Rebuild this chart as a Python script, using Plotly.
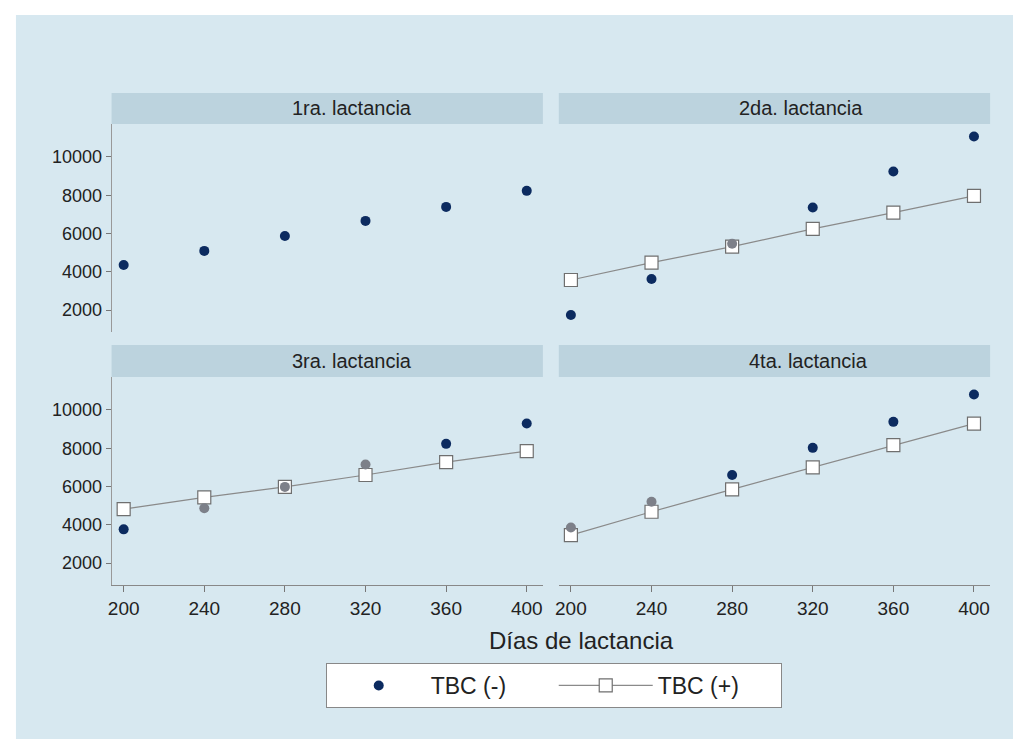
import plotly.graph_objects as go

W, H = 1017, 739

# ---- data ----
days = [200, 240, 280, 320, 360, 400]
panels = ["1ra. lactancia", "2da. lactancia", "3ra. lactancia", "4ta. lactancia"]
tbc_neg_1 = [4350, 5090, 5870, 6660, 7390, 8230]
tbc_pos_1 = None
tbc_neg_2 = [1740, 3620, 5460, 7360, 9240, 11070]
tbc_pos_2 = [3570, 4480, 5310, 6240, 7090, 7970]
tbc_neg_3 = [3760, 4860, 5980, 7150, 8230, 9290]
tbc_pos_3 = [4820, 5430, 5980, 6600, 7270, 7850]
tbc_neg_4 = [3860, 5200, 6600, 8020, 9380, 10810]
tbc_pos_4 = [3460, 4680, 5850, 7000, 8160, 9290]
y_ticks = [2000, 4000, 6000, 8000, 10000]
x_ticks = [200, 240, 280, 320, 360, 400]
series_names = ["TBC (-)", "TBC (+)"]

neg = [tbc_neg_1, tbc_neg_2, tbc_neg_3, tbc_neg_4]
pos = [tbc_pos_1, tbc_pos_2, tbc_pos_3, tbc_pos_4]

NAVY = "#0c2b60"
GRAY_DOT = "#7d8089"
LINE = "#8a8a8a"
BG = "#d7e8f0"
STRIP = "#bcd3de"
TXT = "#222222"
FONT = "Liberation Sans, Arial, sans-serif"

def px_x(p):
    return p / W

def px_y(p):
    return 1 - p / H

# panel pixel boxes: (left, right, top, bottom) of plot area; strip top
boxes = [
    (108, 541, 124, 332, 93),
    (557, 990, 124, 332, 93),
    (108, 541, 377, 585, 345),
    (557, 990, 377, 585, 345),
]
title_x = [349, 800, 349, 808]

fig = go.Figure()
layout = dict(
    width=W, height=H,
    margin=dict(l=0, r=0, t=0, b=0),
    paper_bgcolor="white",
    plot_bgcolor="white",
    font=dict(family=FONT, color=TXT),
    shapes=[], annotations=[],
)

layout["shapes"].append(dict(type="rect", xref="paper", yref="paper",
                             x0=px_x(12), x1=px_x(1013), y0=0, y1=px_y(15),
                             fillcolor=BG, line=dict(width=0), layer="below"))

for i, (l, r, t, b, st) in enumerate(boxes):
    k = "" if i == 0 else str(i + 1)
    xa, ya = "xaxis" + k, "yaxis" + k
    bottom_row = i >= 2
    left_col = i % 2 == 0
    layout[xa] = dict(
        domain=[px_x(l), px_x(r)], anchor="y" + k, range=[194, 408],
        tickvals=x_ticks, ticktext=[str(v) for v in x_ticks],
        showticklabels=bottom_row,
        ticks="outside" if bottom_row else "", ticklen=6, tickcolor="#777",
        showline=bottom_row, linecolor="#888", linewidth=1,
        showgrid=False, zeroline=False,
        tickfont=dict(size=19, color=TXT, family=FONT),
    )
    layout[ya] = dict(
        domain=[px_y(b), px_y(t)], anchor="x" + k, range=[850, 11725],
        tickvals=y_ticks, ticktext=[str(v) for v in y_ticks],
        showticklabels=left_col,
        ticks="outside" if left_col else "", ticklen=5, tickcolor="#777",
        showline=left_col, linecolor="#999", linewidth=1,
        showgrid=False, zeroline=False,
        tickfont=dict(size=18, color=TXT, family=FONT),
    )
    # strip
    layout["shapes"].append(dict(type="rect", xref="paper", yref="paper",
                                 x0=px_x(l), x1=px_x(r), y0=px_y(t), y1=px_y(st),
                                 fillcolor=STRIP, line=dict(width=0), layer="below"))
    layout["annotations"].append(dict(text=panels[i], xref="paper", yref="paper",
                                      x=px_x(title_x[i]), y=px_y((t + st) / 2),
                                      showarrow=False, xanchor="center", yanchor="middle",
                                      font=dict(size=20, color=TXT, family=FONT)))

    n = neg[i]
    p = pos[i]
    if p is not None:
        fig.add_trace(go.Scatter(
            x=days, y=p, mode="lines+markers", name=series_names[1],
            line=dict(color=LINE, width=1.2),
            marker=dict(symbol="square", size=13, color="white",
                        line=dict(color="#6f6f6f", width=1.2)),
            xaxis="x" + k, yaxis="y" + k,
            showlegend=(i == 1), legendrank=2,
        ))
        colors = [GRAY_DOT if abs(a - c) < 650 else NAVY for a, c in zip(n, p)]
    else:
        colors = NAVY
    fig.add_trace(go.Scatter(
        x=days, y=n, mode="markers", name=series_names[0],
        marker=dict(symbol="circle", size=10, color=colors),
        xaxis="x" + k, yaxis="y" + k,
        showlegend=(i == 0), legendrank=1,
    ))

layout["annotations"].append(dict(text="Días de lactancia", xref="paper", yref="paper",
                                  x=px_x(580), y=px_y(640), showarrow=False,
                                  xanchor="center", yanchor="middle",
                                  font=dict(size=24, color=TXT, family=FONT)))

layout["legend"] = dict(
    orientation="h", xref="paper", yref="paper",
    x=px_x(323), xanchor="left", y=px_y(663), yanchor="top",
    bgcolor="white", bordercolor="#888", borderwidth=1,
    font=dict(size=23, color=TXT, family=FONT),
    itemwidth=94, entrywidth=118, entrywidthmode="pixels",
    traceorder="normal", itemsizing="trace",
)

fig.update_layout(**layout)
fig.write_html("out.html", post_script="document.body.style.margin='0';",
               config={"responsive": False, "displayModeBar": False})
